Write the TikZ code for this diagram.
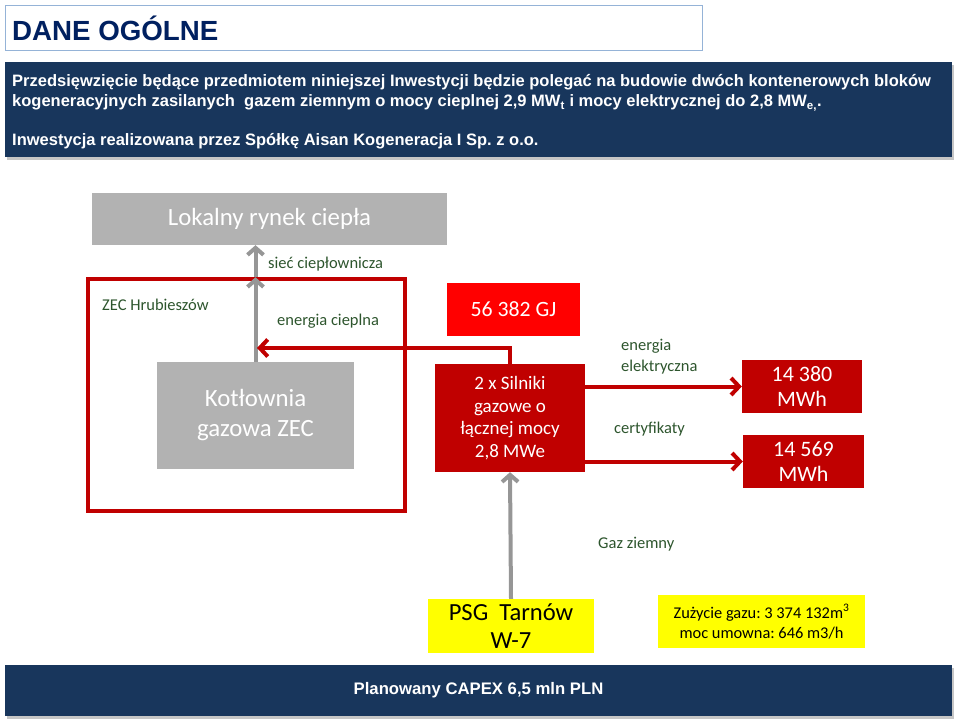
\documentclass[tikz,border=0pt]{standalone}
\usepackage{fontspec}
\setmainfont{Carlito}
\newfontfamily\arialfont{Liberation Sans}
\frenchspacing
\usetikzlibrary{arrows.meta, positioning, shadows}
\definecolor{granat}{RGB}{24,54,92}
\definecolor{tytulowy}{RGB}{0,32,96}
\definecolor{ramka}{RGB}{149,179,215}
\definecolor{szaryblok}{RGB}{178,178,178}
\definecolor{szarastrzalka}{RGB}{150,150,150}
\definecolor{ciemnyczerwony}{RGB}{192,0,0}
\definecolor{jasnyczerwony}{RGB}{255,0,0}
\definecolor{zielony}{RGB}{45,85,45}
\definecolor{zolty}{RGB}{255,255,0}

\begin{document}
\begin{tikzpicture}[x=1pt,y=-1pt,
    blok/.style={inner sep=0pt, align=center, text=white},
    szary/.style={blok, fill=szaryblok},
    czerwony/.style={blok, fill=ciemnyczerwony},
    zoltyblok/.style={blok, fill=zolty, text=black},
    pasek/.style={fill=granat, inner sep=0pt,
        drop shadow={shadow xshift=2pt, shadow yshift=-3pt, opacity=0.45}},
    opis/.style={text=zielony, anchor=west, inner sep=0pt, align=left,
        font=\fontsize{16.5}{21}\selectfont},
    szarastr/.style={draw=szarastrzalka, line width=4pt,
        -{Straight Barb[length=7pt, width=16pt]}},
    czerwonastr/.style={draw=ciemnyczerwony, line width=4pt,
        -{Straight Barb[length=8pt, width=17pt]}}]
    % obszar rysunku
    \useasboundingbox (0,0) rectangle (960,723);
    % tytul
    \node[draw=ramka, line width=1pt, fill=white, minimum width=697pt, minimum height=45pt,
        anchor=north west] (tytul) at (5,5) {};
    \node[anchor=west, inner sep=0pt, text=tytulowy,
        font=\arialfont\bfseries\fontsize{27.7}{30}\selectfont] (tytultekst) at (12,28) {DANE OGÓLNE};
    % pasek z opisem inwestycji
    \node[pasek, minimum width=947pt, minimum height=95pt, anchor=north west] (info) at (5,62) {};
    \node[anchor=west, inner sep=0pt, align=left, text=white,
        font=\arialfont\bfseries\fontsize{16.5}{20}\selectfont] (infotekst) at (12,112)
        {Przedsięwzięcie będące przedmiotem niniejszej Inwestycji będzie polegać na budowie dwóch kontenerowych bloków\\
        kogeneracyjnych zasilanych\ \ gazem ziemnym o mocy cieplnej 2,9 MW\textsubscript{t} i mocy elektrycznej do 2,8 MW\textsubscript{e,}.\\[19pt]
        Inwestycja realizowana przez Spółkę Aisan Kogeneracja I Sp. z o.o.};
    % lokalny rynek ciepla
    \node[szary, minimum width=355pt, minimum height=52pt,
        font=\fontsize{24.8}{28}\selectfont] (rynek) at (269.5,219) {Lokalny rynek ciepła};
    % ramka ZEC
    \node[draw=ciemnyczerwony, line width=3.5pt, minimum width=317pt, minimum height=232pt,
        inner sep=0pt] (zec) at (246.5,395) {};
    \node[opis] (zecnazwa) at (102,305) {ZEC Hrubieszów};
    % kotlownia
    \node[szary, minimum width=197pt, minimum height=107pt,
        font=\fontsize{24.8}{30}\selectfont] (kotlownia) at (255.5,415.5) {Kotłownia\\gazowa ZEC};
    % silniki i produkcja
    \node[blok, fill=jasnyczerwony, minimum width=133pt, minimum height=53pt,
        font=\fontsize{21.8}{25}\selectfont] (gj) at (513.5,309.5) {56 382 GJ};
    \node[czerwony, minimum width=150pt, minimum height=108pt,
        font=\fontsize{19}{22.5}\selectfont] (silniki) at (510,418)
        {2 x Silniki\\gazowe o\\łącznej mocy\\2,8 MWe};
    \node[czerwony, minimum width=120pt, minimum height=53pt,
        font=\fontsize{22}{25.5}\selectfont] (mwhjeden) at (802,386.5) {14 380\\MWh};
    \node[czerwony, minimum width=121pt, minimum height=53pt,
        font=\fontsize{22}{25.5}\selectfont] (mwhdwa) at (803.5,461.5) {14 569\\MWh};
    % gaz
    \node[zoltyblok, minimum width=166pt, minimum height=54pt,
        font=\fontsize{24.6}{28}\selectfont] (psg) at (511,626) {PSG\ \ Tarnów\\W-7};
    \node[zoltyblok, minimum width=207pt, minimum height=53pt,
        font=\fontsize{16.4}{20}\selectfont] (zuzycie) at (761.5,621.5)
        {Zużycie gazu: 3 374 132m\textsuperscript{3}\\moc umowna: 646 m3/h};
    % dolny pasek
    \node[pasek, minimum width=947pt, minimum height=51pt, text=white,
        font=\arialfont\bfseries\fontsize{16.7}{20}\selectfont] (capex) at (478.5,690.5)
        {Planowany CAPEX 6,5 mln PLN};
    % opisy strzalek
    \node[opis] (siec) at (268,264) {sieć ciepłownicza};
    \node[opis] (cieplna) at (277,321) {energia cieplna};
    \node[opis] (elektryczna) at (621,357) {energia\\elektryczna};
    \node[opis] (certyfikaty) at (614,429) {certyfikaty};
    \node[opis] (gaz) at (598,544) {Gaz ziemny};
    % punkty pomocnicze
    \coordinate (zecgora) at (kotlownia.north |- zec.north);
    \coordinate (rynekdol) at (kotlownia.north |- rynek.south);
    \coordinate (wezel) at (257,348);
    % strzalki
    \draw[szarastr] (kotlownia.north) -- (zecgora);
    \draw[szarastr] (zecgora) -- (rynekdol);
    \draw[czerwonastr] (silniki.north) |- (wezel);
    \draw[czerwonastr] (silniki.east |- mwhjeden.west) -- (mwhjeden.west);
    \draw[czerwonastr] (silniki.east |- mwhdwa.west) -- (mwhdwa.west);
    \draw[szarastr] (psg.north) -- (silniki.south);
\end{tikzpicture}
\end{document}
